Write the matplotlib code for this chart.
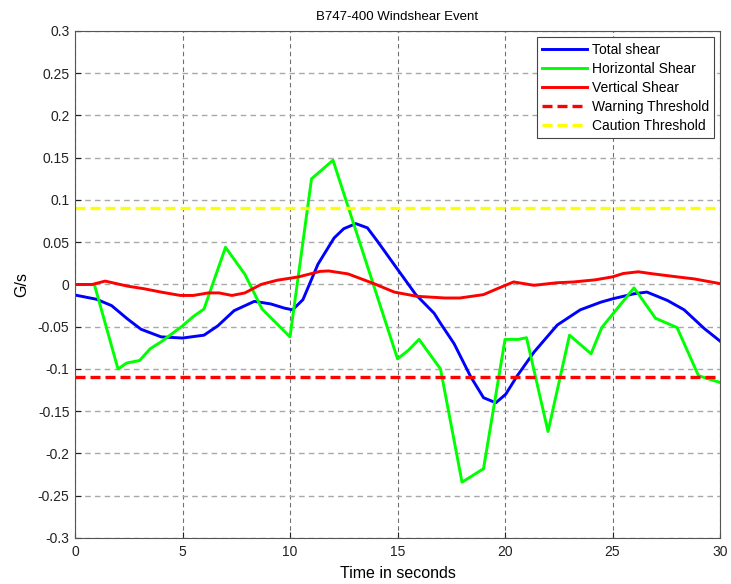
"""B747-400 windshear event: total / horizontal / vertical shear vs time."""

import matplotlib

matplotlib.use("Agg")
import matplotlib.pyplot as plt

plt.rcParams["font.family"] = ["Liberation Sans", "DejaVu Sans"]
plt.rcParams["axes.unicode_minus"] = False

# Total shear (G/s)
total_t = [0, 1, 1.7, 2.45, 3.07, 4, 5, 6, 6.64, 7.4, 8.34, 9.1, 9.74, 10.12,
           10.6, 11.3, 12.05, 12.5, 13.06, 13.6, 14.07, 15, 15.85, 16.7, 17,
           17.63, 18.4, 19, 19.57, 20.03, 20.57, 21.35, 22.43, 23.5, 24.45,
           25, 26, 26.6, 27.56, 28.33, 29.26, 30]
total_g = [-0.0125, -0.0175, -0.025, -0.041, -0.053, -0.062, -0.0634, -0.060,
           -0.049, -0.031, -0.020, -0.023, -0.028, -0.030, -0.018, 0.024,
           0.055, 0.066, 0.072, 0.067, 0.051, 0.018, -0.012, -0.034, -0.046,
           -0.070, -0.109, -0.134, -0.140, -0.130, -0.108, -0.080, -0.048,
           -0.030, -0.021, -0.017, -0.011, -0.009, -0.019, -0.030, -0.052,
           -0.067]

# Horizontal shear
horiz_t = [0, 0.9, 2, 2.4, 3, 3.5, 4, 5, 5.5, 6, 7, 7.9, 8.7, 10, 11, 12, 15,
           15.5, 16, 17, 18, 19, 20, 20.6, 21, 22, 23, 24, 24.5, 26, 27, 28,
           29, 30]
horiz_g = [0, 0, -0.1, -0.093, -0.09, -0.076, -0.068, -0.049, -0.038, -0.029,
           0.044, 0.012, -0.029, -0.062, 0.125, 0.147, -0.088, -0.078, -0.065,
           -0.1, -0.234, -0.218, -0.065, -0.065, -0.063, -0.174, -0.06, -0.082,
           -0.051, -0.004, -0.04, -0.051, -0.108, -0.116]

# Vertical shear
vert_t = [0, 0.8, 1.4, 2.45, 3.2, 4, 4.9, 5.5, 6.2, 6.7, 7.3, 7.9, 8.65, 9.4,
          10.4, 11.4, 11.8, 12.7, 13.9, 14.85, 15.9, 17.2, 17.9, 19, 19.64,
          20.4, 21.35, 22.4, 23.2, 24.2, 25, 25.5, 26.2, 26.9, 28, 28.8, 30]
vert_g = [0, 0, 0.004, -0.002, -0.005, -0.009, -0.013, -0.013, -0.010, -0.010,
          -0.013, -0.010, 0, 0.005, 0.009, 0.0155, 0.016, 0.0125, 0.001,
          -0.009, -0.014, -0.016, -0.016, -0.012, -0.005, 0.003, -0.001,
          0.002, 0.003, 0.0055, 0.009, 0.013, 0.015, 0.0125, 0.009, 0.0066,
          0.001]

warning_level = -0.11
caution_level = 0.09
x_range = [0, 30]

x_ticks = [0, 5, 10, 15, 20, 25, 30]
y_ticks = [0.3, 0.25, 0.2, 0.15, 0.1, 0.05, 0, -0.05, -0.1, -0.15, -0.2,
           -0.25, -0.3]
y_tick_labels = ["0.3", "0.25", "0.2", "0.15", "0.1", "0.05", "0", "-0.05",
                 "-0.1", "-0.15", "-0.2", "-0.25", "-0.3"]

fig = plt.figure(figsize=(7.31, 5.84), dpi=100)
ax = fig.add_axes([0.1026, 0.0788, 0.8824, 0.8682])

lw = 2.1
ax.plot(total_t, total_g, color="#0000ff", lw=lw, label="Total shear")
ax.plot(horiz_t, horiz_g, color="#00ff00", lw=lw, label="Horizontal Shear")
ax.plot(vert_t, vert_g, color="#ff0000", lw=lw, label="Vertical Shear")
ax.plot(x_range, [warning_level] * 2, color="#ff0000", lw=lw + 0.3,
        ls=(0, (3, 1.5)), label="Warning Threshold")
ax.plot(x_range, [caution_level] * 2, color="#ffff00", lw=lw + 0.3,
        ls=(0, (3, 1.5)), label="Caution Threshold")

ax.set_xlim(0, 30)
ax.set_ylim(-0.3, 0.3)
ax.set_xticks(x_ticks)
ax.set_yticks(y_ticks)
ax.set_yticklabels(y_tick_labels)
ax.tick_params(direction="in", length=4, labelsize=10, colors="#222222")
ax.tick_params(axis="y", pad=4)
ax.tick_params(axis="x", pad=5)
# MATLAB-style grid: vertical lines darker, horizontal ones lighter
ax.xaxis.grid(True, color="#707070", ls=(0, (4, 3)), lw=0.8)
ax.yaxis.grid(True, color="#a8a8a8", ls=(0, (4, 3)), lw=1.0)
ax.set_axisbelow(True)
for s in ax.spines.values():
    s.set_color("#555555")
    s.set_linewidth(0.8)

ax.set_title("B747-400 Windshear Event", fontsize=9.5, pad=8)
ax.set_xlabel("Time in seconds", fontsize=11.5, labelpad=5)
ax.set_ylabel("G/s", fontsize=11.5, labelpad=6)

leg = ax.legend(loc="upper right", bbox_to_anchor=(0.991, 0.988),
                fontsize=10, handlelength=3.2, borderpad=0.4,
                labelspacing=0.36, handletextpad=0.35, borderaxespad=0,
                fancybox=False, framealpha=1)
leg.get_frame().set_edgecolor("#444444")
leg.get_frame().set_linewidth(0.8)

fig.savefig("out.png", dpi=100)
